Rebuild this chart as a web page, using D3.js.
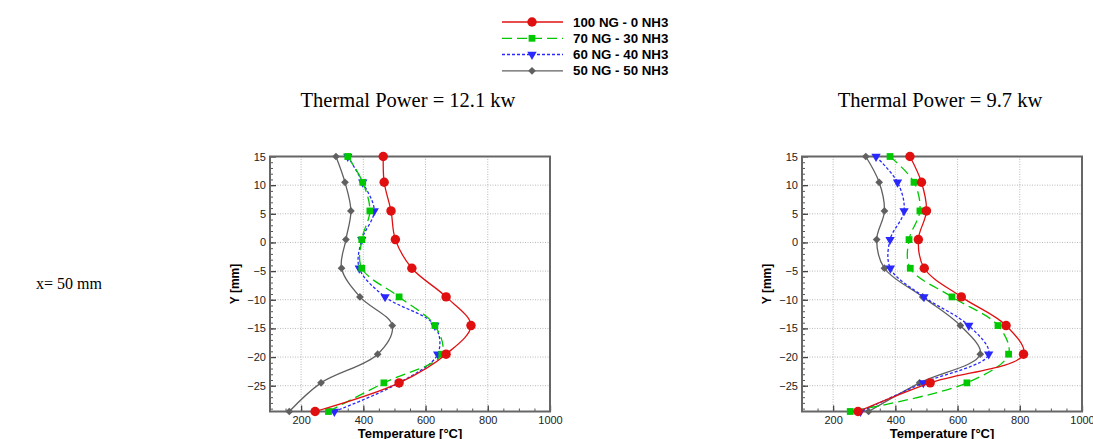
<!DOCTYPE html>
<html>
<head>
<meta charset="utf-8">
<script src="https://cdnjs.cloudflare.com/ajax/libs/d3/7.8.5/d3.min.js"></script>
<style>
body { margin: 0; background: #fff; }
svg { display: block; }
.tick text { font-family: "Liberation Sans", Arial, sans-serif; font-size: 11px; fill: #222; }
</style>
</head>
<body>
<div id="chart"></div>
<script>
var w = 1093,
    h = 439;

// y positions of the measurement points [mm]
var yPos = [15, 10.5, 5.5, 0.5, -4.5, -9.5, -14.5, -19.5, -24.5, -29.5];

var seriesNames = ["100 NG - 0 NH3", "70 NG - 30 NH3", "60 NG - 40 NH3", "50 NG - 50 NH3"];

// Thermal Power = 12.1 kw, temperature [°C]
var left100 = [464, 467, 489, 503, 556, 666, 746, 666, 515, 245];
var left70 = [350, 398, 421, 395, 395, 515, 630, 652, 466, 288];
var left60 = [350, 398, 435, 395, 387, 470, 630, 639, 515, 307];
var left50 = [312, 341, 360, 344, 330, 389, 493, 446, 264, 162];

// Thermal Power = 9.7 kw
var right100 = [447, 484, 500, 474, 493, 612, 756, 812, 512, 280];
var right70 = [383, 460, 479, 444, 448, 582, 730, 764, 630, 255];
var right60 = [338, 407, 428, 383, 384, 492, 636, 700, 490, 288];
var right50 = [305, 348, 365, 340, 365, 488, 609, 673, 478, 314];

var xTicks = [200, 400, 600, 800, 1000];
var yTicks = [15, 10, 5, 0, -5, -10, -15, -20, -25];

var colors = ["#e01010", "#00c800", "#2828ff", "#606060"];
var dashes = [null, "10,5", "3,2", null];
var symbols = [d3.symbolCircle, d3.symbolSquare, d3.symbolTriangle, d3.symbolSquare];
var symSizes = [70, 46, 38, 30];
var symRot = [0, 0, 180, 45];

var svg = d3.select("#chart").append("svg")
    .attr("width", w)
    .attr("height", h);

var pw = 280,
    ph = 255;

var x = d3.scaleLinear().domain([100, 1000]).range([0, pw]);
var y = d3.scaleLinear().domain([-29.5, 15]).range([ph, 0]);

function drawMarker(g, i, cx, cy) {
    g.append("path")
        .attr("d", d3.symbol().type(symbols[i]).size(symSizes[i])())
        .attr("transform", "translate(" + cx + "," + cy + ") rotate(" + symRot[i] + ")")
        .attr("fill", colors[i]);
}

function drawPanel(left, top, allSeries, title) {
    var g = svg.append("g").attr("transform", "translate(" + left + "," + top + ")");

    // grid
    g.selectAll(".gx").data(xTicks.slice(0, 4)).enter().append("line")
        .attr("x1", function (d) { return x(d); })
        .attr("x2", function (d) { return x(d); })
        .attr("y1", 0).attr("y2", ph)
        .attr("stroke", "#b8b8b8").attr("stroke-dasharray", "1,1.5");
    g.selectAll(".gy").data(yTicks).enter().append("line")
        .attr("y1", function (d) { return y(d); })
        .attr("y2", function (d) { return y(d); })
        .attr("x1", 0).attr("x2", pw)
        .attr("stroke", "#b8b8b8").attr("stroke-dasharray", "1,1.5");

    // minor ticks
    g.append("g").attr("transform", "translate(0," + ph + ")")
        .call(d3.axisBottom(x).tickValues(d3.range(150, 1000, 50)).tickSize(-3).tickSizeOuter(0).tickFormat(""))
        .call(function (a) { a.select(".domain").remove(); a.selectAll("line").attr("stroke", "#555"); });
    g.append("g")
        .call(d3.axisLeft(y).tickValues(d3.range(-29, 15, 1)).tickSize(-3).tickSizeOuter(0).tickFormat(""))
        .call(function (a) { a.select(".domain").remove(); a.selectAll("line").attr("stroke", "#555"); });

    // major ticks with labels
    g.append("g").attr("transform", "translate(0," + ph + ")")
        .call(d3.axisBottom(x).tickValues(xTicks).tickSize(-6).tickSizeOuter(0).tickPadding(5).tickFormat(d3.format("d")))
        .call(function (a) { a.select(".domain").remove(); a.selectAll("line").attr("stroke", "#444").attr("stroke-width", 1.3); });
    g.append("g")
        .call(d3.axisLeft(y).tickValues(yTicks).tickSize(-6).tickSizeOuter(0).tickPadding(4))
        .call(function (a) { a.select(".domain").remove(); a.selectAll("line").attr("stroke", "#444").attr("stroke-width", 1.3); });

    // frame
    g.append("rect")
        .attr("width", pw).attr("height", ph)
        .attr("fill", "none").attr("stroke", "#666").attr("stroke-width", 2);

    var line = d3.line()
        .x(function (d) { return x(d[0]); })
        .y(function (d) { return y(d[1]); })
        .curve(d3.curveCatmullRom.alpha(0.5));

    // draw back to front: gray, blue, green, red
    for (var i = allSeries.length - 1; i >= 0; i--) {
        var pts = allSeries[i].map(function (t, k) { return [t, yPos[k]]; });
        g.append("path")
            .datum(pts)
            .attr("d", line)
            .attr("fill", "none")
            .attr("stroke", colors[i])
            .attr("stroke-width", 1.3)
            .attr("stroke-dasharray", dashes[i]);
        pts.forEach(function (p) {
            drawMarker(g, i, x(p[0]), y(p[1]));
        });
    }

    // axis titles
    g.append("text")
        .attr("transform", "translate(-31," + (ph / 2) + ") rotate(-90)")
        .attr("text-anchor", "middle")
        .style("font-family", "'Liberation Sans', Arial, sans-serif")
        .style("font-weight", "bold")
        .style("font-size", "12px")
        .text("Y [mm]");
    g.append("text")
        .attr("x", pw / 2).attr("y", ph + 26)
        .attr("text-anchor", "middle")
        .style("font-family", "'Liberation Sans', Arial, sans-serif")
        .style("font-weight", "bold")
        .style("font-size", "13px")
        .text("Temperature [°C]");

    svg.append("text")
        .attr("x", left + 138).attr("y", 107)
        .attr("text-anchor", "middle")
        .style("font-family", "'Liberation Serif', 'Times New Roman', serif")
        .style("font-size", "20.5px")
        .text(title);
}

drawPanel(270, 156.5, [left100, left70, left60, left50], "Thermal Power = 12.1 kw");
drawPanel(802, 156.5, [right100, right70, right60, right50], "Thermal Power = 9.7 kw");

svg.append("text")
    .attr("x", 36).attr("y", 289)
    .style("font-family", "'Liberation Serif', 'Times New Roman', serif")
    .style("font-size", "16px")
    .text("x= 50 mm");

// legend
var legend = svg.append("g");
var legendY = [22, 38.3, 54.5, 70.8];
seriesNames.forEach(function (name, i) {
    legend.append("line")
        .attr("x1", 502).attr("x2", 563)
        .attr("y1", legendY[i]).attr("y2", legendY[i])
        .attr("stroke", colors[i])
        .attr("stroke-width", 1.3)
        .attr("stroke-dasharray", dashes[i]);
    drawMarker(legend, i, 532, legendY[i]);
    legend.append("text")
        .attr("x", 573).attr("y", legendY[i] + 4.5)
        .style("font-family", "'Liberation Sans', Arial, sans-serif")
        .style("font-weight", "bold")
        .style("font-size", "13.3px")
        .text(name);
});
</script>
</body>
</html>
